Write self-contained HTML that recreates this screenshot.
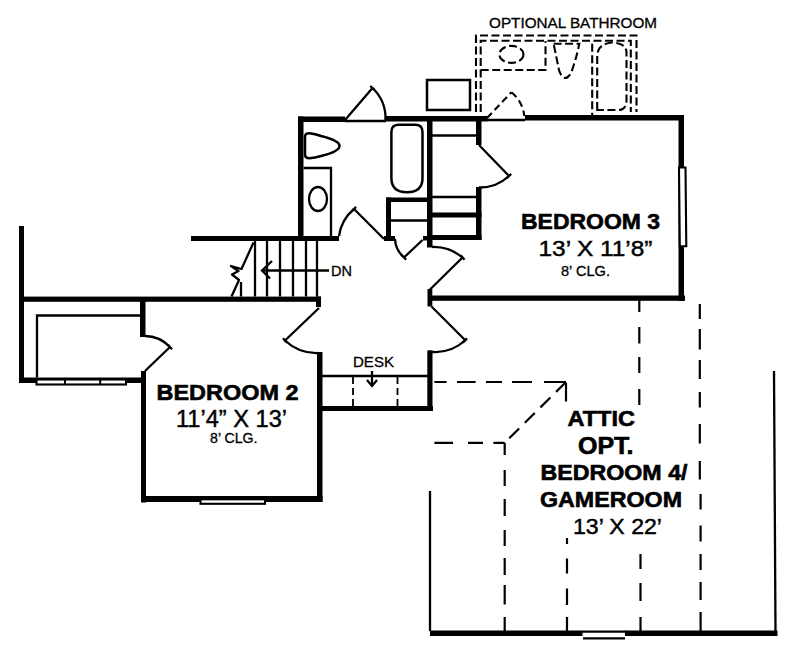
<!DOCTYPE html>
<html><head><meta charset="utf-8">
<style>
html,body{margin:0;padding:0;background:#fff;}
svg{display:block;}
text{font-family:"Liberation Sans",sans-serif;fill:#000;}
.b{font-weight:bold;}
</style></head>
<body>
<svg width="800" height="657" viewBox="0 0 800 657">
<rect x="0" y="0" width="800" height="657" fill="#fff"/>
<!-- THICK WALLS -->
<g fill="#000">
  <!-- left outer wall -->
  <rect x="19" y="226" width="5" height="157"/>
  <!-- lower stair wall -->
  <rect x="19" y="296.6" width="302" height="5.2"/>
  <rect x="316" y="296.5" width="5" height="10.5"/>
  <!-- BR2 closet stub -->
  <rect x="140" y="300" width="5.5" height="37"/>
  <!-- closet bottom wall -->
  <rect x="19" y="377.5" width="126" height="5.5"/>
  <!-- BR2 left wall -->
  <rect x="141" y="371" width="5" height="131.5"/>
  <!-- BR2 bottom wall -->
  <rect x="141" y="496" width="181.5" height="6"/>
  <!-- BR2 right wall -->
  <rect x="317" y="352" width="5.5" height="150"/>
  <!-- stair upper wall -->
  <rect x="191" y="236" width="148" height="5"/>
  <!-- bath left wall -->
  <rect x="298" y="116.5" width="5.5" height="124.5"/>
  <!-- top walls -->
  <rect x="298" y="116.5" width="47" height="5.5"/>
  <rect x="386" y="116" width="101.5" height="5.5"/>
  <rect x="525" y="115" width="159" height="5.5"/>
  <!-- vertical wall 427 -->
  <rect x="427" y="116" width="5.5" height="131.5"/>
  <!-- linen closet -->
  <rect x="386" y="197.5" width="5" height="43.5"/>
  <rect x="386" y="197.5" width="41" height="4.5"/>
  <rect x="384" y="236" width="11" height="5"/>
  <rect x="423" y="236" width="6" height="4.5"/>
  <!-- closet right wall -->
  <rect x="476" y="116" width="5.5" height="29"/>
  <rect x="476" y="187" width="5.5" height="53"/>
  <rect x="432" y="212.5" width="49.5" height="5"/>
  <rect x="432" y="235" width="49.5" height="5"/>
  <!-- BR3 right wall -->
  <rect x="678.5" y="115" width="5.5" height="186"/>
  <!-- BR3 bottom wall -->
  <rect x="429" y="295.5" width="256" height="5.3"/>
  <rect x="427.5" y="289" width="4.8" height="17.5"/>
  <!-- right foyer wall -->
  <rect x="427.3" y="350.5" width="5.2" height="60.5"/>
  <rect x="322" y="406" width="111" height="5"/>
  <!-- attic bottom wall -->
  <rect x="430" y="630.5" width="152.5" height="5.5"/>
  <rect x="625" y="630.5" width="152.5" height="5.5"/>
</g>
<!-- WINDOWS -->
<g fill="#fff" stroke="#000" stroke-width="2.1">
  <rect x="36.5" y="379.5" width="89.5" height="5"/>
  <rect x="200.5" y="499.3" width="64.5" height="4.5"/>
  <polygon points="679,167.5 685.5,167.5 686.3,246.3 679.8,246.3"/>
  
</g>
<g stroke="#000" stroke-width="2">
  <line x1="65" y1="379.5" x2="65" y2="384.5"/>
  <line x1="100.2" y1="379.5" x2="100.2" y2="384.5"/>
</g>
<g stroke="#000" stroke-width="2.2">
  <line x1="582" y1="631.6" x2="626" y2="631.6"/>
  <line x1="583" y1="638.3" x2="625" y2="638.3"/>
</g>
<!-- THIN LINES -->
<g stroke="#000" stroke-width="2.3" fill="none">
  <polyline points="140,315.5 37,315.5 37,377.5"/>
  <line x1="430" y1="491" x2="430" y2="631"/>
  <line x1="774" y1="371" x2="775.5" y2="631"/>
  <line x1="322" y1="376" x2="428" y2="376"/>
  <!-- stair treads -->
  <line x1="255" y1="241" x2="255" y2="296.5"/>
  <line x1="267" y1="241" x2="267" y2="296.5"/>
  <line x1="280" y1="241" x2="280" y2="296.5"/>
  <line x1="293" y1="241" x2="293" y2="296.5"/>
  <line x1="306" y1="241" x2="306" y2="296.5"/>
  <line x1="317" y1="241" x2="317" y2="296.5"/>
  <line x1="241" y1="282" x2="241" y2="296.5"/>
  <!-- break line -->
  <polyline stroke-linejoin="round" points="253.5,242.5 241.5,269 231,266 238.5,271 232,274.5 239,280 231.5,296.5"/>
  <!-- DN arrow -->
  <line x1="263" y1="270.5" x2="329" y2="270.5"/>
  <polyline points="272,261 262,270.5 270,278.5"/>
  <!-- desk arrow -->
  <line x1="372" y1="371" x2="372" y2="386"/>
  <polyline points="367,380 372,386 377,380"/>
  <!-- linen shelf -->
  <line x1="391" y1="220.5" x2="427" y2="220.5"/>
  <!-- closet shelves -->
  <line x1="432" y1="135.5" x2="476" y2="135.5"/>
  <line x1="432" y1="197" x2="476" y2="197"/>
  <!-- bath door sill line -->
  <line x1="345" y1="121" x2="386" y2="121"/>
  <line x1="487" y1="120" x2="525" y2="120"/>
  <!-- vanity -->
  <polyline points="303.5,168 331,168 331,236"/>
  <ellipse cx="318" cy="199" rx="9" ry="12"/>
  <!-- toilet -->
  <path d="M305,137 Q305,133 309.5,133.2 Q315,134 321,136 Q339.5,140.5 339.5,146 Q339.5,151.5 321,156 Q315,158 309.5,158.2 Q305,158.2 305,154.5 Z" stroke-width="2.5"/>
  <!-- tub -->
  <path d="M391.4,132 Q391.4,124.8 399,124.8 L415,124.8 Q422.5,124.8 422.5,132 L422.5,178 Q422.5,192.2 407,192.2 Q391.4,192.2 391.4,178 Z" stroke-width="2.5"/>
  <!-- water heater -->
  <rect x="427" y="80" width="43" height="30" stroke-width="2.5"/>
</g>
<!-- DOORS -->
<g stroke="#000" stroke-width="2.3" fill="none">
  <!-- bath top door -->
  <line x1="345" y1="120" x2="372.5" y2="88"/>
  <path d="M372.5,88 A42 42 0 0 1 385.5,120"/>
  <!-- bath lower door -->
  <path d="M339,236 A43 43 0 0 1 354,209"/>
  <line x1="354" y1="209" x2="384" y2="239"/>
  <!-- linen door -->
  <path d="M395,239 A26 26 0 0 0 404,257.5"/>
  <line x1="404" y1="257.5" x2="422.5" y2="240"/>
  <!-- BR3 door -->
  <path d="M432,247 A45 45 0 0 1 462.5,257.5"/>
  <line x1="462.5" y1="257.5" x2="430" y2="289.5"/>
  <!-- lower right foyer door -->
  <line x1="431.5" y1="306.5" x2="465" y2="340"/>
  <path d="M465,340.5 A45 45 0 0 1 428.5,351.5"/>
  <!-- lower left foyer door -->
  <line x1="319" y1="308" x2="285" y2="340.5"/>
  <path d="M285,340.5 A46 46 0 0 0 318,353"/>
  <!-- BR2 closet door -->
  <line x1="145" y1="371" x2="170" y2="347"/>
  <path d="M145,336 A35 35 0 0 1 170,347"/>
  <!-- BR3 closet door -->
  <line x1="479" y1="145" x2="509" y2="176"/>
  <path d="M509,176 A43 43 0 0 1 479,187.5"/>
</g>
<path stroke="#000" stroke-width="2.3" fill="none" d="M172.1,349.2L167.9,344.8M282.9,338.3L287.1,342.7M462.9,342.6L467.1,338.4M464.6,259.6L460.4,255.4M506.8,178.1L511.2,173.9M374.8,90.0L370.2,86.0M356.1,206.9L351.9,211.1M401.9,255.3L406.1,259.7"/>
<!-- DASHED -->
<path stroke="#000" stroke-width="2.2" fill="none" d="M639.3,300V312M639.3,327V343.6M639.3,357V373M639.3,389V405M640.5,554V569M640.5,583V601M640.5,617V631M699.8,304V319M699.8,329V349.4M699.8,360V379M699.8,392V407.5M699.8,424V443.5M699.8,461V479.6M700.6,494V509.6M700.6,525.6V541.6M700.6,554V570M700.6,582V600M700.6,612V631M504.7,443V455M504.7,470V486M504.7,499V516M504.7,530V546M504.7,558V575M504.7,585V604.5M504.7,617V631M567,538V544M567,558.5V573.5M567,588.5V605M567,617V631M434.4,382H446.6M457,382H475.6M486,382H502M512,382H532M544,382H566M566,383V401.6M434.4,442.8H453M468,442.8H483M493.4,442.8H504.7"/>
<g stroke="#000" stroke-width="2.2" fill="none" stroke-dasharray="14 8">
  <line x1="566" y1="382" x2="504.7" y2="442.8"/>
</g>
<g stroke="#000" stroke-width="1.8" fill="none" stroke-dasharray="7 4">
  <line x1="353" y1="377" x2="353" y2="406"/>
  <line x1="397.5" y1="377" x2="397.5" y2="406"/>
</g>
<!-- OPTIONAL BATHROOM DASHED -->
<g stroke="#000" stroke-width="2.1" fill="none" stroke-dasharray="8 3.5">
  <polyline points="476,112 476,35.5 636.5,35.5 636.5,112"/>
  <polyline points="480.7,112 480.7,40.8 630.8,40.8 630.8,112"/>
  <polyline points="480.7,70 545.5,70 545.5,41"/>
  <ellipse cx="511.4" cy="54.4" rx="12" ry="8.5"/>
  <path d="M553.6,43.7 L579.3,43.7 Q576,60 571,73 Q568,78 565,78 Q561,77 559,70 Z"/>
  <line x1="592.2" y1="43.7" x2="592.2" y2="115"/>
  <path d="M597.2,110 V56 Q597.2,44 612,42.5 Q626,43 626.5,52 V100 Q626.5,110 618,110 Z"/>
</g>
<g stroke="#000" stroke-width="2.1" fill="none" stroke-dasharray="7 4">
  <line x1="487" y1="118" x2="511.4" y2="92.3"/>
  <path d="M511.4,92.3 A35 35 0 0 1 524.3,116"/>
</g>
<!-- TEXT -->
<g stroke="#000" stroke-width="0.3">
<text x="489" y="27.5" font-size="14.5" textLength="168" lengthAdjust="spacingAndGlyphs">OPTIONAL BATHROOM</text>
<text x="561" y="276" font-size="14.3" textLength="49" lengthAdjust="spacingAndGlyphs">8’ CLG.</text>
<text x="331" y="276" font-size="14.3" textLength="21" lengthAdjust="spacingAndGlyphs">DN</text>
<text x="353" y="367.3" font-size="14.8" textLength="41" lengthAdjust="spacingAndGlyphs">DESK</text>
<text x="210" y="443" font-size="14.3" textLength="47.5" lengthAdjust="spacingAndGlyphs">8’ CLG.</text>
</g>
<g stroke="#000" stroke-width="0.45">
<text x="538.5" y="256" font-size="22.5" textLength="114" lengthAdjust="spacingAndGlyphs">13’ X 11’8”</text>
<text x="176" y="427" font-size="23.5" textLength="111" lengthAdjust="spacingAndGlyphs">11’4” X 13’</text>
<text x="573" y="534" font-size="22.5" textLength="89" lengthAdjust="spacingAndGlyphs">13’ X 22’</text>
</g>
<g stroke="#000" stroke-width="0.6" class="b">
<text class="b" x="521" y="229.2" font-size="22.5" textLength="139" lengthAdjust="spacingAndGlyphs">BEDROOM 3</text>
<text class="b" x="156.5" y="399.7" font-size="22.8" textLength="142" lengthAdjust="spacingAndGlyphs">BEDROOM 2</text>
<text class="b" x="567.5" y="426.3" font-size="22.5" textLength="67.5" lengthAdjust="spacingAndGlyphs">ATTIC</text>
<text class="b" x="578" y="453.8" font-size="23" textLength="55.5" lengthAdjust="spacingAndGlyphs">OPT.</text>
<text class="b" x="540.5" y="480" font-size="21.5" textLength="147" lengthAdjust="spacingAndGlyphs">BEDROOM 4/</text>
<text class="b" x="540" y="506.7" font-size="22.5" textLength="142" lengthAdjust="spacingAndGlyphs">GAMEROOM</text>
</g>
</svg>
</body></html>
